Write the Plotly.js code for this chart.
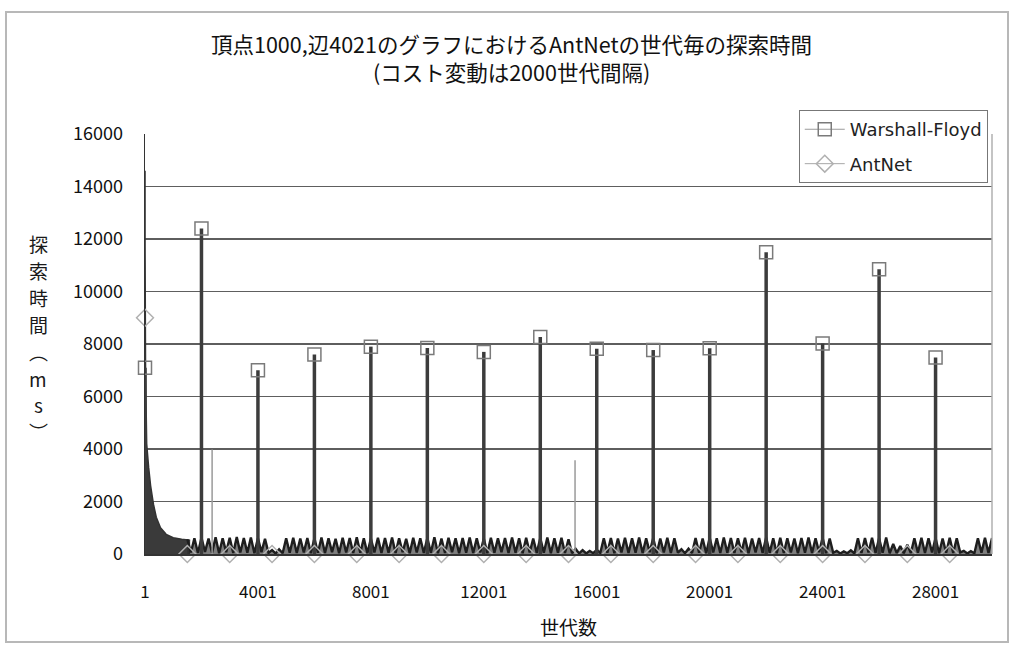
<!DOCTYPE html>
<html>
<head>
<meta charset="utf-8">
<script src="https://cdn.plot.ly/plotly-3.0.1.min.js"></script>
<style>
  html, body { margin: 0; padding: 0; background: #fff; }
  #wrap { position: relative; width: 1019px; height: 649px; }
  #chart { width: 1019px; height: 649px; }
  #frame { position: absolute; left: 5px; top: 11px; width: 1004px; height: 632px;
           border: 2px solid #b8b8b8; pointer-events: none; box-sizing: border-box; }
</style>
</head>
<body>
<div id="wrap"><div id="chart"></div><div id="frame"></div></div>
<script>
// ---- data ----
const wfGen  = [1, 2001, 4001, 6001, 8001, 10001, 12001, 14001, 16001, 18001, 20001, 22001, 24001, 26001, 28001];
const wfTime = [7100, 12400, 7000, 7600, 7900, 7850, 7700, 8270, 7820, 7770, 7840, 11500, 8020, 10850, 7490];

const antMarkGen  = [1, 1501, 3001, 4501, 6001, 7501, 9001, 10501, 12001, 13501, 15001, 16501, 18001, 19501, 21001, 22501, 24001, 25501, 27001, 28501];
const antMarkTime = [9000, 0, 0, 0, 0, 0, 0, 0, 0, 0, 0, 0, 0, 0, 0, 0, 0, 0, 0, 0];

const antDecayGen  = [1, 2, 3, 20, 60, 130, 200, 300, 400, 550, 750, 1000, 1300, 1600];
const antDecayTime = [9000, 14600, 11700, 7000, 4200, 3300, 2600, 1900, 1400, 1000, 750, 620, 560, 520];

const antPeakGen  = [2378, 15232];
const antPeakTime = [3980, 3570];

const antBandFirstGen = 1501;
const antBandGenStep = 125;
const antBandTime = [
  560,60,600,40,620,80,590,50,
  640,30,600,70,620,40,650,60,
  610,50,630,30,600,70,580,40,
  150,20,180,30,600,50,620,40,
  590,60,610,30,600,50,630,40,
  600,70,580,30,620,60,610,40,
  640,50,600,30,590,60,620,40,
  610,50,630,40,600,70,580,30,
  620,60,600,40,610,50,640,30,
  590,40,620,70,600,30,610,50,
  630,40,600,60,590,30,620,50,
  600,70,610,40,630,50,600,30,
  620,60,590,40,610,50,630,30,
  600,50,620,40,560,30,200,20,
  150,20,120,30,160,40,600,50,
  610,30,590,60,620,40,600,50,
  630,40,600,70,610,30,590,60,
  620,40,600,50,180,30,200,40,
  610,50,590,30,620,60,600,40,
  630,50,610,40,600,70,620,30,
  590,60,610,40,630,50,600,30,
  620,40,600,60,590,30,610,50,
  630,40,600,70,620,30,590,50,
  120,20,100,30,140,20,600,40,
  610,60,620,40,600,50,630,30,
  380,40,300,30,350,40,600,50,
  620,40,600,60,610,30,590,50,
  620,40,600,60,120,20,110,30,
  600,50,620,40,610
];

const xTickVals = [1, 4001, 8001, 12001, 16001, 20001, 24001, 28001];
const xTickText = ['1', '4001', '8001', '12001', '16001', '20001', '24001', '28001'];

const titleText = '頂点1000,辺4021のグラフにおけるAntNetの世代毎の探索時間<br>(コスト変動は2000世代間隔)';
const xTitle = '世代数';
const yTitleChars = ['探', '索', '時', '間', '︵', 'm', 's', '︶'];

// ---- helpers: separate points by nulls so no connecting lines are drawn ----
function spread(arr) { const out = []; arr.forEach(v => { out.push(v, null); }); return out; }

const FONT = '"Noto Sans CJK JP", "Noto Sans", sans-serif';
const LFONT = '"DejaVu Sans", "Noto Sans", sans-serif';

const traces = [
  { // AntNet early decay
    type: 'scatter', mode: 'lines', x: antDecayGen, y: antDecayTime,
    line: { color: '#333', width: 1.5, simplify: false }, fill: 'tozeroy', fillcolor: '#3a3a3a',
    showlegend: false, hoverinfo: 'skip'
  },
  { // AntNet dense band
    type: 'scatter', mode: 'lines', x0: antBandFirstGen, dx: antBandGenStep, y: antBandTime,
    line: { color: '#1e1e1e', width: 2.4, simplify: false },
    fill: 'tozeroy', fillcolor: 'rgba(40,40,40,0.6)',
    showlegend: false, hoverinfo: 'skip'
  },
  { // AntNet isolated peaks
    type: 'scatter', mode: 'markers', x: antPeakGen, y: antPeakTime,
    marker: { size: 0, opacity: 0 },
    error_y: { type: 'data', symmetric: false, array: antPeakTime.map(() => 0), arrayminus: antPeakTime,
               thickness: 1.5, width: 0, color: '#9a9a9a' },
    showlegend: false, hoverinfo: 'skip'
  },
  { // Warshall-Floyd
    type: 'scatter', mode: 'lines+markers', name: 'Warshall-Floyd', legendgroup: 'wf',
    x: spread(wfGen), y: spread(wfTime), connectgaps: false,
    line: { color: '#9a9a9a', width: 1 },
    marker: { symbol: 'square-open', size: 13, color: '#7a7a7a', line: { width: 1.5 } },
    error_y: { type: 'data', symmetric: false, array: spread(wfTime.map(() => 0)), arrayminus: spread(wfTime),
               thickness: 3.5, width: 0, color: '#3c3c3c' },
    cliponaxis: false
  },
  { // AntNet markers
    type: 'scatter', mode: 'lines+markers', name: 'AntNet', legendgroup: 'ant',
    x: spread(antMarkGen), y: spread(antMarkTime), connectgaps: false,
    line: { color: '#a8a8a8', width: 1 },
    marker: { symbol: 'diamond-open', size: 13, color: '#b0b0b0', line: { width: 1.5 } },
    cliponaxis: false
  }
];

const annotations = yTitleChars.map((ch, i) => ({
  xref: 'paper', yref: 'paper', x: -0.126, y: (554 - (243 + i * 27)) / 420,
  xanchor: 'center', yanchor: 'middle', text: ch, showarrow: false,
  font: { size: 19, family: FONT, color: '#1a1a1a' }
}));

const layout = {
  width: 1019, height: 649,
  margin: { l: 145, r: 27, t: 134, b: 95 },
  paper_bgcolor: '#fff', plot_bgcolor: '#fff',
  font: { family: FONT, color: '#1a1a1a' },
  title: { text: titleText, font: { size: 21.5, family: FONT, color: '#111' },
           x: 0.502, xanchor: 'center', y: 0.918, yanchor: 'top', yref: 'container' },
  xaxis: {
    range: [1, 30000], tickmode: 'array', tickvals: xTickVals, ticktext: xTickText,
    showgrid: false, zeroline: false, showline: true, linecolor: '#333', linewidth: 1.5,
    ticks: '', tickfont: { size: 17, family: FONT, color: '#111' }, ticklabelstandoff: 22,
    title: { text: xTitle, font: { size: 19, family: FONT, color: '#111' }, standoff: 20 },
    fixedrange: true
  },
  yaxis: {
    range: [0, 16000], dtick: 2000, tick0: 0, tickformat: 'd',
    showgrid: true, gridcolor: '#5e5e5e', gridwidth: 1.5,
    zeroline: false, showline: true, linecolor: '#333', linewidth: 1.5,
    ticks: '', tickfont: { size: 18, family: FONT, color: '#111' }, ticklabelstandoff: 17,
    fixedrange: true
  },
  legend: {
    x: 0.995, xanchor: 'right', y: 1.057, yanchor: 'top',
    bgcolor: '#fff', bordercolor: '#777', borderwidth: 1,
    font: { size: 18, family: LFONT, color: '#222' },
    traceorder: 'grouped', tracegroupgap: 8, itemwidth: 40
  },
  shapes: [
    { type: 'line', xref: 'paper', yref: 'paper', x0: 1, x1: 1, y0: 0, y1: 1,
      line: { color: '#b0b0b0', width: 1.5 } }
  ],
  annotations: annotations
};

Plotly.newPlot('chart', traces, layout, { staticPlot: true });
</script>
</body>
</html>
